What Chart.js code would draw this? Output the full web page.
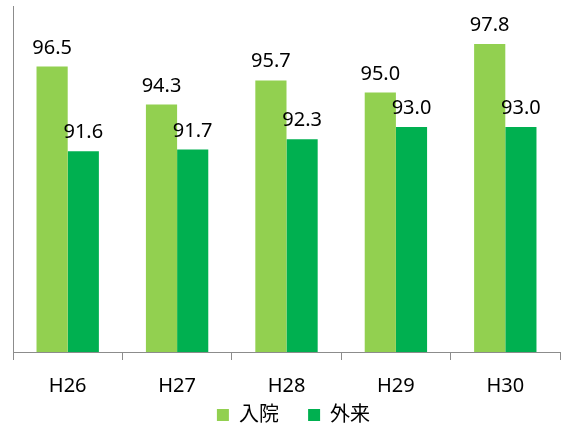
<!DOCTYPE html>
<html>
<head>
<meta charset="utf-8">
<script src="https://cdn.jsdelivr.net/npm/chart.js@4"></script>
<style>
html,body{margin:0;padding:0;background:#fff;}
#wrap{width:566px;height:427px;}
</style>
</head>
<body>
<div id="wrap"><canvas id="c" width="566" height="427"></canvas></div>
<script>
const categories = ["H26", "H27", "H28", "H29", "H30"];
const inpatient = [96.5, 94.3, 95.7, 95.0, 97.8];
const outpatient = [91.6, 91.7, 92.3, 93.0, 93.0];
const seriesNames = ["入院", "外来"];

const FONT = "'Noto Sans', 'Noto Sans CJK JP', sans-serif";

const labelPlugin = {
  id: 'valueLabels',
  afterDatasetsDraw(chart) {
    const ctx = chart.ctx;
    ctx.save();
    ctx.font = "20px " + FONT;
    ctx.fillStyle = "#000";
    ctx.textAlign = "center";
    ctx.textBaseline = "alphabetic";
    chart.data.datasets.forEach((ds, di) => {
      const meta = chart.getDatasetMeta(di);
      meta.data.forEach((bar, i) => {
        ctx.fillText(ds.data[i].toFixed(1), bar.x, bar.y - 13);
      });
    });
    ctx.restore();
  }
};

const legendShift = {
  id: 'legendShift',
  afterLayout(chart) {
    const lg = chart.legend;
    if (!lg) return;
    const dx = 11, dy = -11;
    lg.left += dx; lg.right += dx;
    lg.top += dy; lg.bottom += dy;
  }
};

new Chart(document.getElementById('c'), {
  type: 'bar',
  data: {
    labels: categories,
    datasets: [
      { label: seriesNames[0], data: inpatient, backgroundColor: '#92D050' },
      { label: seriesNames[1], data: outpatient, backgroundColor: '#00B050' }
    ]
  },
  options: {
    responsive: false,
    animation: false,
    layout: { padding: { left: 5, right: 6, top: 6, bottom: -13 } },
    datasets: { bar: { categoryPercentage: 0.57, barPercentage: 1.0 } },
    scales: {
      x: {
        grid: { display: true, drawOnChartArea: false, offset: true, tickLength: 8, color: '#8c8c8c' },
        border: { display: true, color: '#8c8c8c', width: 1 },
        ticks: { color: '#000', font: { family: FONT, size: 20 }, padding: 14 }
      },
      y: {
        min: 80, max: 100,
        grid: { display: false },
        border: { display: true, color: '#8c8c8c', width: 1 },
        ticks: { display: false }
      }
    },
    plugins: {
      legend: {
        position: 'bottom',
        maxHeight: 28,
        labels: {
          boxWidth: 12, boxHeight: 12, padding: 4,
          color: '#000',
          font: { family: FONT, size: 20 },
          generateLabels(chart) {
            const items = Chart.defaults.plugins.legend.labels.generateLabels(chart);
            items.forEach((it, i) => {
              it.lineWidth = 0;
              if (i < items.length - 1) it.text = it.text + '\u3000 ';
            });
            return items;
          }
        }
      },
      tooltip: { enabled: false }
    }
  },
  plugins: [labelPlugin, legendShift]
});
</script>
</body>
</html>
